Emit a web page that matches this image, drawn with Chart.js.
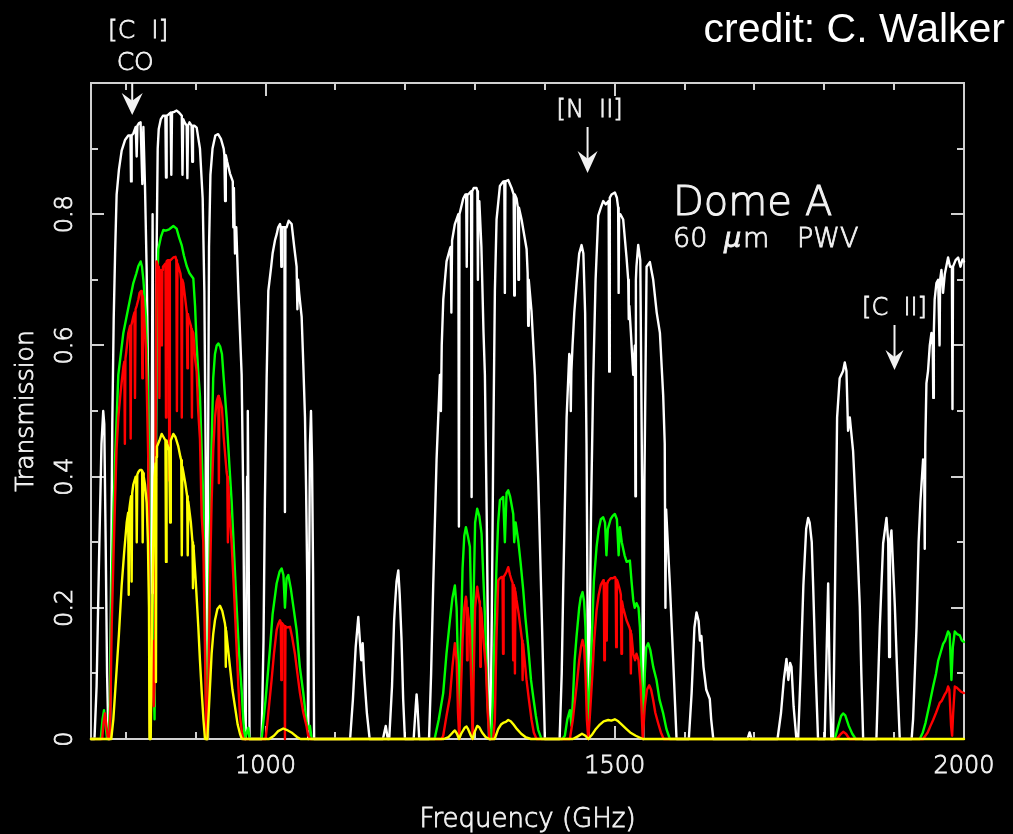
<!DOCTYPE html>
<html>
<head>
<meta charset="utf-8">
<script src="https://cdn.jsdelivr.net/npm/chart.js@4.4.0/dist/chart.umd.min.js"></script>
<style>
    html, body { margin: 0; padding: 0; background: #000; }
    #wrap { width: 1013px; height: 834px; }
</style>
</head>
<body>
<div id="wrap"><canvas id="myChart" width="1013" height="834"></canvas></div>
<script>
//Transmission spectra (frequency in GHz, transmission 0..1)
const whiteFreq = [
    750, 755, 758, 762, 765, 767.5, 769, 771, 773, 775,
    777, 778.5, 780.5, 782.5, 784.5, 786.7, 790, 793.9, 798.7, 803.4, 806.5, 807.3, 808.2, 810.6, 814, 815.4, 816.5, 818.7, 821, 823.5, 825, 827.3, 829.7, 831.6, 833, 834.5,
    836.5, 838.2, 839.5, 841, 842.5, 844, 845.5, 847, 850, 853, 856.5, 857.4, 858.3, 861, 864, 865, 866, 869, 872.6, 876, 880, 881, 882, 884, 887, 888, 889, 891, 894, 895, 896, 898, 901.3, 906, 909.9, 912.3, 914.2, 915.6,
    916.5, 917.5, 919, 921, 924, 928, 932, 936, 940, 941, 942, 943, 945, 949, 953, 953.8, 954.6, 956.2, 958, 961, 965.7, 968.1, 970.5,
    971.5, 973.5, 974.5, 975.5, 977, 993, 994.3, 997, 999, 1001.5, 1003.9, 1008, 1010, 1013.4, 1016, 1018, 1020.6, 1021.7, 1022.5, 1023.3, 1024.5, 1027, 1027.7, 1028.4, 1030, 1033, 1037.3, 1041, 1044.4, 1045.5, 1046.5, 1048, 1051.6, 1054, 1056.4, 1058, 1059.7, 1061,
    1062, 1063.5, 1065, 1066.5, 1068, 1069.5, 1121, 1125, 1129, 1132.7, 1135, 1137, 1139, 1141, 1145, 1149, 1168, 1172, 1175, 1177, 1181, 1184, 1185.5, 1187.5, 1190, 1192, 1194.7, 1197, 1199.5, 1212, 1215, 1216.2, 1217.5, 1220,
    1234, 1237, 1240, 1244.8, 1249.6, 1251, 1252.2, 1254.4, 1259.1, 1263.9, 1265, 1266, 1267, 1271, 1276, 1276.8, 1277.6, 1283, 1286, 1287.2, 1288, 1288.8, 1290, 1294.2, 1295, 1295.8, 1298, 1302, 1303.2, 1304, 1304.8, 1306, 1309, 1312, 1314, 1316.5, 1318, 1320,
    1322, 1324, 1326, 1328.3, 1330.7, 1335.5, 1340.3, 1341.8, 1342.6, 1343.4, 1347.4, 1352.2, 1355.2, 1356, 1356.8, 1359.3, 1361.2, 1362, 1362.8, 1366.5, 1373.7, 1375.2, 1376, 1376.8, 1380.8, 1385.6, 1390.4, 1395.1, 1399.9,
    1421, 1424, 1426.2, 1431, 1434.8, 1436.2, 1437, 1437.8, 1439.5, 1442, 1445.3, 1449, 1452.4, 1455, 1457.5, 1459.5, 1461, 1462.3, 1464, 1466, 1469, 1472.5, 1476.3, 1480, 1483.4, 1487, 1491.2, 1492, 1492.8, 1495.3, 1500.1, 1503, 1504.8, 1505.5, 1506.2, 1508, 1512, 1516.8, 1519.2, 1520, 1520.8, 1523, 1526.4, 1528.8, 1529.5, 1530.2, 1531, 1533.5, 1536.5, 1539, 1540.7, 1542.5, 1545.5, 1550.2, 1555, 1560, 1564.6, 1569.3, 1571.5, 1572.5, 1573.5, 1578.9, 1583.6, 1588.4,
    1606, 1610, 1614, 1617, 1620, 1622, 1624, 1627, 1631, 1636, 1638, 1641, 1690, 1693, 1696, 1733, 1738, 1742, 1745.8, 1748.5, 1751, 1753, 1756, 1760, 1762.5, 1766, 1770, 1774, 1776.8, 1779, 1782, 1784, 1787.5, 1791, 1800.5, 1803, 1805.5, 1807.5, 1810,
    1812.6, 1815, 1818.3, 1822, 1826.9, 1829.3, 1831.7, 1834, 1836.5, 1841.2, 1846, 1850.8, 1853, 1855.6, 1874.6, 1879.4, 1884.2, 1889, 1891.5, 1892.8, 1894, 1896.1, 1899, 1901, 1905, 1908,
    1925, 1927.1, 1932, 1935, 1937.6, 1941.4, 1943, 1943.8, 1944.6, 1946.2, 1948.5, 1951, 1953.4, 1955.2, 1956, 1956.8, 1958, 1960.5, 1963, 1964.2, 1965, 1965.8, 1967.7, 1970, 1972.5, 1977.2, 1980, 1982.7, 1983.5, 1984.3, 1985, 1988, 1991.6, 1995, 1997.8, 2000
];
const whiteTrans = [
    0, 0, 0.08, 0.3, 0.45, 0.5, 0.48, 0.3, 0.1, 0,
    0, 0.2, 0.48, 0.64, 0.74, 0.83, 0.868, 0.897, 0.913, 0.92, 0.92, 0.85, 0.92, 0.923, 0.933, 0.888, 0.935, 0.939, 0.94, 0.846, 0.933, 0.843, 0.715, 0.555, 0.3, 0,
    0.3, 0.8, 0.4, 0.05, 0.3, 0.75, 0.9, 0.93, 0.945, 0.95, 0.95, 0.856, 0.95, 0.952, 0.955, 0.86, 0.955, 0.956, 0.958, 0.955, 0.95, 0.86, 0.945, 0.94, 0.935, 0.855, 0.935, 0.94, 0.935, 0.88, 0.935, 0.935, 0.932, 0.9, 0.824, 0.683, 0.426, 0,
    0, 0.4, 0.75, 0.86, 0.9, 0.92, 0.922, 0.915, 0.9, 0.89, 0.82, 0.89, 0.88, 0.862, 0.85, 0.78, 0.84, 0.74, 0.78, 0.683, 0.555, 0.362, 0,
    0, 0.4, 0.5, 0.35, 0, 0, 0, 0.15, 0.362, 0.55, 0.683, 0.72, 0.74, 0.76, 0.77, 0.78, 0.785, 0.78, 0.72, 0.78, 0.78, 0.78, 0.346, 0.78, 0.78, 0.79, 0.785, 0.75, 0.72, 0.655, 0.7, 0.68, 0.644, 0.57, 0.49, 0.38, 0.234, 0,
    0, 0.45, 0.5, 0.42, 0.25, 0, 0, 0.06, 0.14, 0.186, 0.15, 0.12, 0.146, 0.1, 0.04, 0, 0, 0.02, 0, 0, 0.08, 0.18, 0.208, 0.24, 0.257, 0.22, 0.15, 0.06, 0, 0, 0.05, 0.068, 0.05, 0,
    0, 0.1, 0.234, 0.426, 0.555, 0.5, 0.6, 0.67, 0.728, 0.747, 0.75, 0.65, 0.76, 0.785, 0.8, 0.324, 0.8, 0.824, 0.83, 0.83, 0.72, 0.83, 0.83, 0.835, 0.369, 0.835, 0.84, 0.84, 0.835, 0.7, 0.82, 0.82, 0.75, 0.62, 0.555, 0.35, 0.2, 0,
    0, 0.2, 0.45, 0.683, 0.792, 0.843, 0.85, 0.85, 0.68, 0.85, 0.852, 0.84, 0.83, 0.676, 0.83, 0.824, 0.81, 0.7, 0.81, 0.792, 0.747, 0.71, 0.63, 0.7, 0.651, 0.555, 0.394, 0.202, 0,
    0, 0.1, 0.234, 0.49, 0.587, 0.58, 0.5, 0.56, 0.6, 0.65, 0.695, 0.74, 0.753, 0.74, 0.65, 0.45, 0.2, 0, 0.15, 0.35, 0.542, 0.7, 0.798, 0.81, 0.82, 0.815, 0.82, 0.56, 0.825, 0.83, 0.833, 0.825, 0.81, 0.68, 0.8, 0.8, 0.792, 0.734, 0.7, 0.64, 0.66, 0.62, 0.555, 0.6, 0.37, 0.7, 0.72, 0.753, 0.73, 0.4, 0, 0.4, 0.72, 0.727, 0.7, 0.65, 0.619, 0.523, 0.45, 0.2, 0.35, 0.234, 0.12, 0,
    0, 0.07, 0.17, 0.193, 0.18, 0.15, 0.157, 0.11, 0.075, 0.061, 0.03, 0, 0, 0.01, 0, 0, 0.04, 0.09, 0.122, 0.09, 0.116, 0.11, 0.05, 0, 0, 0.1, 0.234, 0.32, 0.337, 0.33, 0.3, 0.234, 0.106, 0, 0, 0.12, 0.237, 0.1, 0,
    0, 0.2, 0.49, 0.55, 0.561, 0.574, 0.561, 0.47, 0.49, 0.439, 0.33, 0.202, 0.1, 0, 0, 0.17, 0.298, 0.337, 0.3, 0.125, 0.3, 0.318, 0.25, 0.202, 0.08, 0,
    0, 0.03, 0.17, 0.3, 0.362, 0.426, 0.42, 0.29, 0.45, 0.542, 0.561, 0.6, 0.619, 0.6, 0.52, 0.62, 0.67, 0.695, 0.7, 0.7, 0.6, 0.7, 0.715, 0.68, 0.709, 0.734, 0.72, 0.72, 0.503, 0.72, 0.72, 0.73, 0.734, 0.72, 0.731, 0.728
];

const greenFreq = [
    750, 764, 766.5, 768.6, 770.5, 773, 775, 777, 779.6, 782, 784.4, 789.1, 796.3, 803.4, 810.6, 815, 817.8, 821.1, 823, 825, 828.7, 831, 833, 834.5, 837, 838.2, 839.5, 841, 842.5, 844,
    846.4, 850, 853.6, 857, 862, 867.9, 872.6, 876, 879.8, 883, 887, 891, 896.5, 899, 901.3, 903.5, 906, 908.5, 910.8, 913, 915.6,
    916.5, 918, 920, 922.7, 925, 927.5, 930, 932.3, 935, 937.5, 940, 944.2, 948, 951.4, 955, 958.5, 962, 965.7, 968, 970.5, 973, 975.2, 977,
    994.3, 1000, 1006.3, 1010, 1015.8, 1020, 1023, 1025.5, 1027.7, 1030, 1032.5, 1036, 1040, 1044.4, 1049, 1054, 1058.7, 1061, 1063.5, 1066,
    1242, 1248, 1254.3, 1259, 1263.9, 1267.5, 1271, 1273.5, 1275.5, 1277.3, 1279, 1282, 1284.5, 1286.8, 1289.5, 1292.5, 1294.5, 1296, 1297.5, 1300, 1303, 1306, 1309.2, 1314, 1318, 1321,
    1323, 1325, 1328, 1330.7, 1333, 1335.5, 1340.2, 1342.6, 1345, 1347.4, 1350, 1354.6, 1356, 1358, 1361.7, 1365, 1368.9, 1372, 1376, 1380, 1383.2, 1387, 1390.3, 1395,
    1425, 1428.5, 1432, 1435.7, 1438, 1440, 1442.5, 1445.2, 1449, 1451, 1453.8, 1456, 1458, 1460, 1462, 1464, 1467, 1470, 1473.9, 1477, 1480, 1483.4, 1486, 1488, 1490, 1494, 1497, 1500.1, 1503, 1505.5, 1507.3, 1510, 1514, 1517, 1521.6, 1524, 1526.4, 1528.5, 1531.1, 1534, 1536, 1538.5, 1540.7, 1543, 1545, 1547.8, 1551, 1555, 1559.7, 1564, 1569.3, 1574, 1578.8,
    1815, 1820, 1824, 1826.9, 1830, 1835, 1840, 1845, 1936.7, 1941, 1945, 1950, 1955.8, 1960, 1963, 1966, 1970.1, 1973, 1977.2, 1979.5, 1982, 1984, 1986.8, 1990, 1994, 1997, 2000
];
const greenTrans = [
    0, 0, 0.03, 0.044, 0.025, 0, 0, 0.05, 0.234, 0.34, 0.426, 0.555, 0.619, 0.657, 0.695, 0.71, 0.721, 0.728, 0.72, 0.7, 0.644, 0.55, 0.426, 0.03, 0.15, 0.22, 0.1, 0.03, 0.35, 0.65,
    0.747, 0.765, 0.776, 0.775, 0.777, 0.782, 0.778, 0.765, 0.753, 0.737, 0.721, 0.71, 0.702, 0.66, 0.6, 0.56, 0.523, 0.44, 0.362, 0.2, 0,
    0, 0.1, 0.3, 0.45, 0.55, 0.587, 0.6, 0.603, 0.598, 0.587, 0.55, 0.49, 0.42, 0.362, 0.28, 0.202, 0.13, 0.074, 0.03, 0, 0.01, 0.017, 0,
    0, 0.06, 0.138, 0.19, 0.237, 0.255, 0.26, 0.25, 0.2, 0.245, 0.25, 0.23, 0.2, 0.166, 0.11, 0.07, 0.025, 0.015, 0.02, 0,
    0, 0.03, 0.07, 0.13, 0.181, 0.215, 0.234, 0.2, 0.11, 0.02, 0.12, 0.26, 0.31, 0.323, 0.31, 0.293, 0.2, 0.08, 0.2, 0.33, 0.351, 0.34, 0.313, 0.19, 0.05, 0,
    0, 0.05, 0.17, 0.267, 0.33, 0.364, 0.369, 0.3, 0.375, 0.379, 0.37, 0.343, 0.3, 0.33, 0.303, 0.27, 0.227, 0.185, 0.141, 0.09, 0.064, 0.035, 0.014, 0,
    0, 0.005, 0.03, 0.044, 0.02, 0.06, 0.12, 0.156, 0.2, 0.215, 0.224, 0.21, 0.17, 0.08, 0.02, 0.08, 0.15, 0.24, 0.293, 0.32, 0.335, 0.338, 0.33, 0.28, 0.32, 0.335, 0.34, 0.343, 0.335, 0.28, 0.323, 0.3, 0.28, 0.27, 0.272, 0.24, 0.212, 0.2, 0.207, 0.2, 0.17, 0.09, 0.02, 0.1, 0.14, 0.146, 0.135, 0.11, 0.09, 0.06, 0.039, 0.015, 0,
    0, 0.02, 0.035, 0.039, 0.036, 0.02, 0.008, 0, 0, 0.01, 0.025, 0.05, 0.08, 0.1, 0.119, 0.13, 0.145, 0.15, 0.164, 0.16, 0.09, 0.14, 0.164, 0.16, 0.158, 0.15, 0.148
];

const redFreq = [
    750, 766, 768, 770, 772, 774.5, 776.5, 778, 779.6, 782, 784.4, 786.5, 789.1, 792.5, 796.3, 797.7, 798.5, 799.3, 800.5, 803.4, 806, 806.8, 807.6, 810.6, 812.2, 813, 813.8, 815.4, 817.8, 819.5, 821.6, 822.7, 823.5, 824.3, 825, 828.7, 830.5, 832, 833.5, 834.5,
    836, 838.2, 840, 841.5, 842.5, 844, 846, 847.2, 848, 848.8, 850, 850.8, 851.5, 852.2, 853, 856.6, 857.4, 858.2, 860, 861.3, 862.1, 862.9, 864, 867.9, 871, 872.2, 873, 873.8, 875, 878, 879.2, 880, 880.8, 882.2, 885, 887.2, 888, 888.8, 889.3, 893, 893.7, 894.5, 895.3, 896.5, 899, 901.3, 903.5, 906, 908.5, 910.8, 913, 915,
    916.5, 918.5, 920.5, 922.7, 925, 927.5, 930, 932.3, 933.1, 933.9, 937.5, 940, 944.2, 945.2, 946, 946.8, 948, 951.4, 955, 958.5, 961, 963.3, 966, 968,
    1000, 1003, 1008.6, 1012, 1015.8, 1018, 1020.6, 1021.7, 1022.5, 1023.3, 1026.9, 1027.7, 1028.5, 1030, 1034.9, 1038, 1042, 1045.5, 1049.2, 1054, 1058.7, 1061, 1064,
    1252, 1254.3, 1259, 1263.9, 1267.5, 1271, 1273.5, 1275.5, 1277.3, 1279, 1282, 1284.5, 1286.8, 1287.7, 1288.5, 1289.3, 1290, 1292.5, 1294.5, 1296.5, 1298, 1300, 1303, 1306, 1306.8, 1307.5, 1308.2, 1309.2, 1312, 1315.4, 1318, 1320.5,
    1326, 1328.3, 1330.5, 1333.1, 1335.5, 1337.8, 1339.2, 1340, 1340.8, 1342.6, 1345, 1347.4, 1350, 1352.2, 1353.7, 1354.5, 1355.3, 1356.3, 1357, 1357.7, 1359.3, 1362.5, 1366.5, 1367.3, 1368, 1368.7, 1370, 1373.6, 1377, 1380.8, 1384, 1388,
    1435.7, 1440, 1445.2, 1449, 1451.5, 1453.8, 1456, 1458, 1460, 1462, 1464, 1468, 1470.5, 1473.9, 1477, 1480, 1483.4, 1484.2, 1485, 1485.8, 1487, 1487.8, 1488.5, 1489.2, 1490, 1494, 1497, 1500.1, 1501.2, 1502, 1502.8, 1504, 1507.3, 1508.7, 1509.5, 1510.3, 1512, 1516.8, 1521, 1522.2, 1523, 1523.8, 1526.4, 1529, 1531, 1534, 1537, 1540, 1543, 1546, 1549.3, 1552, 1555, 1558, 1562.1, 1566, 1570,
    1818, 1823, 1827, 1831, 1836, 1941.4, 1948, 1952, 1955.8, 1960, 1965.3, 1968, 1972.5, 1975, 1977.2, 1979, 1981.5, 1983, 1984.5, 1986.8, 1990, 1993, 1996, 2000
];
const redTrans = [
    0, 0, 0.025, 0.039, 0.02, 0, 0, 0.06, 0.17, 0.27, 0.362, 0.44, 0.49, 0.53, 0.567, 0.575, 0.45, 0.58, 0.59, 0.619, 0.63, 0.458, 0.63, 0.644, 0.65, 0.52, 0.655, 0.66, 0.67, 0.68, 0.683, 0.68, 0.55, 0.675, 0.66, 0.594, 0.5, 0.426, 0.2, 0.01,
    0.05, 0.15, 0.05, 0.1, 0.45, 0.728, 0.72, 0.715, 0.52, 0.715, 0.71, 0.71, 0.6, 0.715, 0.72, 0.725, 0.49, 0.728, 0.73, 0.73, 0.394, 0.73, 0.73, 0.734, 0.735, 0.73, 0.5, 0.725, 0.721, 0.71, 0.7, 0.49, 0.7, 0.695, 0.67, 0.65, 0.565, 0.648, 0.644, 0.63, 0.625, 0.49, 0.622, 0.619, 0.58, 0.56, 0.5, 0.458, 0.34, 0.3, 0.15, 0,
    0, 0.1, 0.25, 0.362, 0.44, 0.49, 0.515, 0.523, 0.39, 0.52, 0.505, 0.46, 0.407, 0.4, 0.3, 0.385, 0.35, 0.298, 0.22, 0.138, 0.08, 0.035, 0.01, 0,
    0, 0.03, 0.09, 0.13, 0.166, 0.175, 0.181, 0.178, 0.09, 0.177, 0.172, 0, 0.172, 0.17, 0.171, 0.155, 0.13, 0.1, 0.07, 0.04, 0.019, 0.005, 0,
    0, 0.005, 0.035, 0.064, 0.11, 0.146, 0.12, 0.04, 0, 0.05, 0.15, 0.2, 0.217, 0.21, 0.12, 0.2, 0.19, 0.171, 0.08, 0, 0.1, 0.2, 0.232, 0.21, 0.205, 0.11, 0.2, 0.191, 0.15, 0.11, 0.04, 0,
    0, 0.03, 0.15, 0.242, 0.245, 0.247, 0.247, 0.13, 0.247, 0.25, 0.255, 0.262, 0.25, 0.242, 0.238, 0.12, 0.235, 0.23, 0.1, 0.225, 0.212, 0.19, 0.156, 0.15, 0.09, 0.145, 0.13, 0.09, 0.06, 0.029, 0.01, 0,
    0, 0.03, 0.08, 0.12, 0.14, 0.151, 0.14, 0.1, 0.03, 0, 0.03, 0.1, 0.15, 0.196, 0.22, 0.235, 0.242, 0.24, 0.12, 0.238, 0.235, 0.236, 0.15, 0.238, 0.24, 0.245, 0.245, 0.247, 0.245, 0.14, 0.243, 0.24, 0.227, 0.22, 0.13, 0.21, 0.2, 0.181, 0.17, 0.165, 0.1, 0.16, 0.13, 0.12, 0.13, 0.12, 0.08, 0, 0.05, 0.075, 0.082, 0.075, 0.059, 0.04, 0.024, 0.01, 0,
    0, 0.007, 0.011, 0.008, 0, 0, 0.01, 0.02, 0.029, 0.04, 0.055, 0.058, 0.068, 0.072, 0.08, 0.075, 0.02, 0.005, 0.04, 0.08, 0.078, 0.075, 0.072, 0.07
];

const yellowFreq = [
    750, 779, 782, 786.7, 790, 793.9, 797.5, 801.1, 803.2, 804, 804.8, 806, 807.4, 808.2, 809, 810.6, 814, 814.7, 815.5, 816.3, 817.8, 820, 822.5, 823.2, 824, 824.8, 825.5, 827.3, 829.7, 831.5, 833, 833.8,
    835.5, 837, 839.2, 841, 842.3, 843, 843.7, 844.5, 848, 851.2, 854, 856.6, 857.4, 858.2, 859, 862, 862.6, 863.3, 864, 864.5, 867.9, 871, 875, 878, 879.2, 880, 880.8, 882.2, 885, 887.7, 888.5, 889.3, 893, 895.3, 896, 896.7, 897, 900, 903.7, 906, 908.4, 911, 913.2,
    916.5, 919, 922.7, 925, 927.5, 931, 934.7, 938, 941.8, 942.4, 943, 943.6, 945, 949, 952.5, 956.2, 960, 963.3, 966, 1005, 1012, 1018, 1025.3, 1030, 1037, 1045, 1050,
    1255, 1262, 1268, 1271, 1274, 1277, 1280, 1285, 1287.7, 1290, 1294, 1296.5, 1299, 1303, 1306, 1310, 1315, 1320, 1328, 1333, 1337, 1341, 1344, 1347.4, 1351, 1355, 1360, 1366, 1372, 1380,
    1440, 1447, 1453, 1458, 1462, 1467, 1472, 1478.6, 1484, 1490.6, 1495, 1500, 1505, 1510, 1516, 1522, 1530, 1540, 2000
];
const yellowTrans = [
    0, 0, 0.03, 0.106, 0.16, 0.234, 0.285, 0.33, 0.345, 0.22, 0.35, 0.36, 0.37, 0.24, 0.375, 0.388, 0.4, 0.4, 0.3, 0.403, 0.407, 0.41, 0.41, 0.408, 0.3, 0.405, 0.4, 0.388, 0.36, 0.3, 0.2, 0,
    0, 0.15, 0.3, 0.4, 0.42, 0.087, 0.43, 0.446, 0.455, 0.465, 0.46, 0.455, 0.27, 0.455, 0.45, 0.44, 0.44, 0.33, 0.45, 0.455, 0.465, 0.46, 0.446, 0.43, 0.425, 0.28, 0.415, 0.407, 0.39, 0.37, 0.28, 0.362, 0.33, 0.3, 0.23, 0.295, 0.29, 0.24, 0.17, 0.12, 0.074, 0.03, 0,
    0, 0.05, 0.13, 0.16, 0.181, 0.198, 0.203, 0.195, 0.176, 0.17, 0.11, 0.165, 0.15, 0.11, 0.075, 0.049, 0.022, 0.008, 0, 0, 0.005, 0.012, 0.016, 0.014, 0.01, 0.003, 0,
    0, 0.003, 0.01, 0.013, 0.008, 0, 0.008, 0.017, 0.019, 0.015, 0.005, 0, 0.01, 0.02, 0.018, 0.01, 0.003, 0, 0, 0.015, 0.022, 0.025, 0.026, 0.029, 0.027, 0.022, 0.015, 0.008, 0.003, 0,
    0, 0.004, 0.008, 0.005, 0, 0.006, 0.014, 0.022, 0.027, 0.029, 0.028, 0.03, 0.027, 0.022, 0.016, 0.01, 0.005, 0, 0
];

//Axis ticks
const xMajorTicks = [1000, 1500, 2000];
const xMinorTicks = [800, 900, 1100, 1200, 1300, 1400, 1600, 1700, 1800, 1900];
const yMajorTicks = [0, 0.2, 0.4, 0.6, 0.8];
const yMinorTicks = [0.1, 0.3, 0.5, 0.7, 0.9];
const xTickLabels = ['1000', '1500', '2000'];
const yTickLabels = ['0', '0.2', '0.4', '0.6', '0.8'];

//Spectral lines marked with arrows
const lineFreqs = [809, 1461, 1900.5];
const lineNames = [['[C  I]', 'CO'], ['[N  II]'], ['[C  II]']];

function toPoints(fs, ts) {
    return fs.map(function (f, i) {
        return { x: f, y: ts[i] };
    });
}

const FG = '#f2f2f2';
const THIN = '"DejaVu Sans", "Liberation Sans", sans-serif';

//thin text with a light outline, to look like the plotting font
function label(ctx, text, x, y) {
    ctx.fillText(text, x, y);
    ctx.strokeText(text, x, y);
}

function arrow(ctx, x, y0, y1, len, w) {
    ctx.beginPath();
    ctx.moveTo(x, y0);
    ctx.lineTo(x, y1 - len * 0.6);
    ctx.stroke();
    ctx.beginPath();
    ctx.moveTo(x, y1);
    ctx.lineTo(x - w / 2, y1 - len);
    ctx.lineTo(x, y1 - len * 0.65);
    ctx.lineTo(x + w / 2, y1 - len);
    ctx.closePath();
    ctx.fill();
}

const framePlugin = {
    id: 'frame',
    beforeDatasetsDraw(chart) {
        const ctx = chart.ctx;
        const a = chart.chartArea;
        const xs = chart.scales.x, ys = chart.scales.y;
        ctx.save();
        ctx.strokeStyle = '#d0d0d0';
        ctx.lineWidth = 2;
        ctx.strokeRect(a.left, a.top, a.right - a.left, a.bottom - a.top);
        ctx.beginPath();
        const xt = function (v, len) {
            const p = Math.round(xs.getPixelForValue(v));
            ctx.moveTo(p, a.bottom); ctx.lineTo(p, a.bottom - len);
            ctx.moveTo(p, a.top); ctx.lineTo(p, a.top + len);
        };
        const yt = function (v, len) {
            const p = Math.round(ys.getPixelForValue(v));
            ctx.moveTo(a.left, p); ctx.lineTo(a.left + len, p);
            ctx.moveTo(a.right, p); ctx.lineTo(a.right - len, p);
        };
        xMajorTicks.forEach(v => xt(v, 13));
        xMinorTicks.forEach(v => xt(v, 7));
        yMajorTicks.forEach(v => yt(v, 13));
        yMinorTicks.forEach(v => yt(v, 7));
        ctx.stroke();
        ctx.restore();
    },
    afterDraw(chart) {
        const ctx = chart.ctx;
        const a = chart.chartArea;
        const xs = chart.scales.x, ys = chart.scales.y;
        ctx.save();
        ctx.fillStyle = FG;
        ctx.strokeStyle = FG;
        ctx.lineWidth = 0.8;

        //tick labels
        ctx.font = '200 24px ' + THIN;
        ctx.textAlign = 'center';
        ctx.textBaseline = 'alphabetic';
        xMajorTicks.forEach(function (v, i) {
            label(ctx, xTickLabels[i], xs.getPixelForValue(v), 773);
        });
        yMajorTicks.forEach(function (v, i) {
            ctx.save();
            ctx.translate(72, ys.getPixelForValue(v));
            ctx.rotate(-Math.PI / 2);
            label(ctx, yTickLabels[i], 0, 0);
            ctx.restore();
        });

        //axis titles
        ctx.font = '200 26px ' + THIN;
        label(ctx, 'Frequency (GHz)', (a.left + a.right) / 2, 827);
        ctx.save();
        ctx.translate(33, (a.top + a.bottom) / 2);
        ctx.rotate(-Math.PI / 2);
        ctx.font = '200 25px ' + THIN;
        label(ctx, 'Transmission', 0, 0);
        ctx.restore();

        //line markers
        ctx.font = '200 25px ' + THIN;
        const xc = xs.getPixelForValue(lineFreqs[0]);
        label(ctx, lineNames[0][0], xc + 6, 38);
        label(ctx, lineNames[0][1], xc + 3, 70);
        const xn = xs.getPixelForValue(lineFreqs[1]);
        ctx.font = '200 24px ' + THIN;
        label(ctx, lineNames[1][0], xn + 2, 117);
        const xci = xs.getPixelForValue(lineFreqs[2]);
        label(ctx, lineNames[2][0], xci, 315);

        ctx.lineWidth = 2;
        arrow(ctx, xc, a.top, 115, 22, 21);
        arrow(ctx, xn, 127, 173, 22, 20);
        arrow(ctx, xci, 325, 370, 20, 18);

        //site label
        ctx.lineWidth = 1;
        ctx.textAlign = 'left';
        ctx.font = '200 40px ' + THIN;
        label(ctx, 'Dome', 673, 215);
        label(ctx, 'A', 805, 215);
        ctx.lineWidth = 0.8;
        ctx.font = '200 27px ' + THIN;
        label(ctx, '60', 673, 247);
        ctx.font = 'italic 200 27px ' + THIN;
        label(ctx, '\u03bc', 724, 247);
        ctx.font = '200 27px ' + THIN;
        label(ctx, 'm', 743, 247);
        label(ctx, 'PWV', 797, 247);

        //credit
        ctx.fillStyle = '#ffffff';
        ctx.textAlign = 'right';
        ctx.font = '41px "Liberation Sans", Arial, sans-serif';
        ctx.fillText('credit: C. Walker', 1005, 42);
        ctx.restore();
    }
};

const data = {
    datasets: [
        { label: 'white', data: toPoints(whiteFreq, whiteTrans), borderColor: '#ffffff', borderWidth: 2.4, order: 3 },
        { label: 'green', data: toPoints(greenFreq, greenTrans), borderColor: '#00ff00', borderWidth: 2.4, order: 2 },
        { label: 'red', data: toPoints(redFreq, redTrans), borderColor: '#ff0000', borderWidth: 2.4, order: 1 },
        { label: 'yellow', data: toPoints(yellowFreq, yellowTrans), borderColor: '#ffff00', borderWidth: 2.4, order: 0 }
    ]
};

const config = {
    type: 'line',
    data: data,
    options: {
        responsive: false,
        animation: false,
        events: [],
        layout: { padding: { left: 91, right: 49, top: 83, bottom: 95 } },
        plugins: { legend: { display: false }, tooltip: { enabled: false } },
        datasets: { line: { clip: 3 } },
        elements: {
            point: { radius: 0 },
            line: { tension: 0, borderJoinStyle: 'round', borderCapStyle: 'round' }
        },
        scales: {
            x: { type: 'linear', min: 750, max: 2000, display: false },
            y: { type: 'linear', min: 0, max: 1, display: false }
        }
    },
    plugins: [framePlugin]
};

var myChart = new Chart(document.getElementById('myChart'), config);
</script>
</body>
</html>
